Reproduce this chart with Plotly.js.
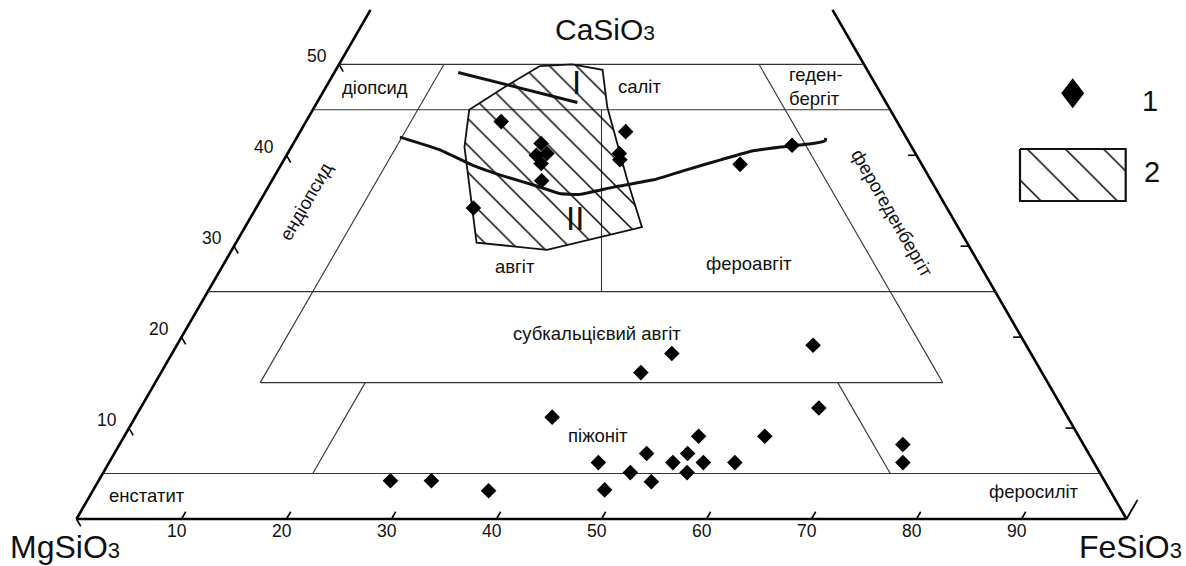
<!DOCTYPE html>
<html><head><meta charset="utf-8">
<script src="https://cdn.plot.ly/plotly-3.0.1.min.js"></script>
<style>html,body{margin:0;padding:0;background:#fff}</style>
</head><body><div id="chart" style="width:1186px;height:566px"></div>
<script>
// ---------- DATA (ternary composition, mol %: Wo = CaSiO3, Fs = FeSiO3) ----------
// 1 — analysed pyroxenes
const pointWo = [43.7, 41.3, 40.2, 40.0, 39.1, 37.2, 34.2, 42.6, 40.2, 39.5, 39.0, 41.1,
                 18.2, 16.1, 19.1, 11.2, 12.2, 9.1, 9.1, 7.2, 7.2, 6.2, 6.2, 6.2, 6.2,
                 5.1, 5.1, 4.1, 3.2, 4.2, 4.2, 3.1, 8.2, 6.2];
const pointFs = [18.6, 23.6, 24.7, 23.8, 24.7, 25.7, 20.7, 31.0, 31.6, 32.0, 43.7, 47.6,
                 47.6, 45.7, 60.6, 39.7, 64.6, 54.7, 61.0, 50.7, 54.6, 46.6, 53.7, 56.6, 59.6,
                 50.2, 55.6, 52.7, 48.7, 27.8, 31.7, 37.7, 74.6, 75.6];
// 2 — field (hatched)
const fieldWo = [49.8, 50.0, 49.4, 45.3, 37.3, 32.1, 29.6, 30.4, 40.9, 45.0, 47.7, 49.8];
const fieldFs = [19.2, 22.2, 25.4, 27.9, 33.8, 37.8, 30.0, 22.9, 16.5, 14.9, 17.2, 19.2];
// trend I
const trendIWo = [49.1, 45.8];
const trendIFs = [11.8, 24.8];
// trend II
const trendIIWo = [42.0, 40.6, 38.9, 37.6, 36.6, 35.8, 35.7, 36.5, 37.3, 38.4, 39.5, 40.5, 40.9, 41.3, 41.6, 41.9];
const trendIIFs = [9.8, 14.3, 18.3, 22.2, 25.6, 28.1, 30.1, 32.9, 36.3, 38.9, 41.6, 44.2, 46.6, 49.5, 50.5, 50.4];
// classification boundaries
const woFullLines = [5, 25, 45, 50];     // Wo levels crossing the whole diagram
const woPartial = 15;                    // Wo level between Fs=10 and En=10
const sideCut = 10;                      // Fs=10 and En=10 lines (Wo 15..50)
const pigeoniteCut = 20;                 // Fs=20 and En=20 lines (Wo 5..15)
const augiteSplit = [25, 45];            // En=Fs line range of Wo
const topWo = 56;                        // diagram is cut here
// tick labels
const bottomTicks = [10, 20, 30, 40, 50, 60, 70, 80, 90];
const leftTicks = [10, 20, 30, 40, 50];
const rightTicks = [10, 20, 30, 40];
const regionNames = ['діопсид', 'саліт', 'геден-<br>бергіт', 'ендіопсид', 'ферогеденбергіт',
  'авгіт', 'фероавгіт', 'субкальцієвий авгіт', 'піжоніт', 'енстатит', 'феросиліт'];
const endMembers = ['CaSiO', 'MgSiO', 'FeSiO'];
const trendNames = ['I', 'II'];
const legendNames = ['1', '2'];

// ---------- LAYOUT HELPERS ----------
const H = Math.sqrt(3) / 2;
const tx = (wo, fs) => fs + wo / 2;
const ty = wo => wo * H;
const S = 10.5, X0 = 76.5, Y0 = 519;          // pixel scale / origin
const W = 1186, HH = 566;
const px2x = p => (p - X0) / S;
const px2y = p => (Y0 - p) / S;
const FONT = 'Liberation Sans, Arial, sans-serif';

const shapes = [];
function seg(wo1, fs1, wo2, fs2, w, c) {
  shapes.push({type: 'line', layer: 'below', x0: tx(wo1, fs1), y0: ty(wo1), x1: tx(wo2, fs2), y1: ty(wo2),
    line: {color: c, width: w}});
}
const thin = '#333', tw = 1.1;
// triangle sides
seg(0, 0, 0, 100, 2.6, '#000');
seg(0, 0, topWo, 0, 2.6, '#000');
seg(0, 100, topWo, 100 - topWo, 2.6, '#000');
// full-width Wo lines
woFullLines.forEach(w => seg(w, 0, w, 100 - w, tw, thin));
// partial Wo = 15
seg(woPartial, sideCut, woPartial, 100 - woPartial - sideCut, tw, thin);
// Fs = 10 and En = 10
seg(woPartial, sideCut, 50, sideCut, tw, thin);
seg(woPartial, 100 - woPartial - sideCut, 50, 100 - 50 - sideCut, tw, thin);
// Fs = 20 and En = 20 (pigeonite field)
seg(5, pigeoniteCut, woPartial, pigeoniteCut, tw, thin);
seg(5, 100 - 5 - pigeoniteCut, woPartial, 100 - woPartial - pigeoniteCut, tw, thin);
// En = Fs (augite / ferroaugite)
seg(augiteSplit[0], (100 - augiteSplit[0]) / 2, augiteSplit[1], (100 - augiteSplit[1]) / 2, tw, thin);
// ticks
bottomTicks.forEach(f => seg(0, f, 0.8, f, 1.6, '#000'));
seg(0, 100, 2.1, 100, 1.8, '#000');
[0].concat(leftTicks).forEach(w => seg(w, 0, w - 0.8, 0.8, 1.6, '#000'));
rightTicks.forEach(w => seg(w, 100 - w, w, 100 - w - 0.8, 1.6, '#000'));

const ann = [];
function txt(x, y, t, size, opt) {
  ann.push(Object.assign({x: x, y: y, text: t, showarrow: false, xref: 'x', yref: 'y',
    font: {family: FONT, size: size, color: '#111'}, xanchor: 'center', yanchor: 'middle'}, opt || {}));
}
bottomTicks.forEach(f => txt(tx(0, f) - 0.4, -1.15, String(f), 17.5));
leftTicks.forEach(w => txt(tx(w, 0) - 2.1, ty(w) + 0.75, String(w), 17.5));

// region label positions (Wo, Fs) and rotation
const regionPos = [[47.5, 4.7, 0], [47.6, 29.8, 0], [47.6, 46.6, 0], [34.9, 4.4, -60], [33.6, 60.9, 60],
  [27.8, 27.9, 0], [28.1, 50.0, 0], [20.4, 39.4, 0], [9.2, 45.1, 0], [2.6, 5.4, 0], [3.0, 89.7, 0]];
regionNames.forEach((n, i) => {
  const p = regionPos[i];
  txt(tx(p[0], p[1]), ty(p[0]), n, 18.5, {textangle: p[2], align: 'left'});
});
// trend numerals
const trendPos = [[48.0, 23.6], [33.1, 30.9]];
trendNames.forEach((n, i) => txt(tx(trendPos[i][0], trendPos[i][1]), ty(trendPos[i][0]), n, 33));
// end-member names
const sub3 = s => '<span style="font-size:' + s + 'px">3</span>';
txt(px2x(605), px2y(29), endMembers[0] + sub3(21), 30);
txt(px2x(8), px2y(547), endMembers[1] + sub3(22), 32, {xanchor: 'left'});
txt(px2x(1184), px2y(547), endMembers[2] + sub3(22), 32, {xanchor: 'right'});
// legend
const legDia = {cx: 1072.7, cy: 93.3, hw: 11.5, hh: 15};
const legBox = {x0: 1020, y0: 149, x1: 1125.7, y1: 201};
txt(px2x(1150), px2y(101), legendNames[0], 29);
txt(px2x(1152), px2y(172), legendNames[1], 29);
shapes.push({type: 'path', layer: 'above', xref: 'x', yref: 'y',
  path: `M${px2x(legDia.cx)},${px2y(legDia.cy - legDia.hh)}L${px2x(legDia.cx + legDia.hw)},${px2y(legDia.cy)}L${px2x(legDia.cx)},${px2y(legDia.cy + legDia.hh)}L${px2x(legDia.cx - legDia.hw)},${px2y(legDia.cy)}Z`,
  fillcolor: '#000', line: {width: 0}});

const traces = [
  {type: 'scatter', mode: 'lines', x: fieldWo.map((w, i) => tx(w, fieldFs[i])), y: fieldWo.map(ty),
   fill: 'toself', fillcolor: 'rgba(255,255,255,0)',
   fillpattern: {shape: '\\', size: 19, solidity: 0.075, fgcolor: '#000', bgcolor: 'rgba(0,0,0,0)'},
   line: {color: '#111', width: 1.8}, hoverinfo: 'skip'},
  {type: 'scatter', mode: 'lines',
   x: [legBox.x0, legBox.x1, legBox.x1, legBox.x0, legBox.x0].map(px2x),
   y: [legBox.y0, legBox.y0, legBox.y1, legBox.y1, legBox.y0].map(px2y),
   fill: 'toself', fillcolor: 'rgba(255,255,255,0)',
   fillpattern: {shape: '\\', size: 27, solidity: 0.055, fgcolor: '#000', bgcolor: 'rgba(0,0,0,0)'},
   line: {color: '#111', width: 2.2}, hoverinfo: 'skip'},
  {type: 'scatter', mode: 'lines', x: trendIWo.map((w, i) => tx(w, trendIFs[i])), y: trendIWo.map(ty),
   line: {color: '#111', width: 3}},
  {type: 'scatter', mode: 'lines', x: trendIIWo.map((w, i) => tx(w, trendIIFs[i])), y: trendIIWo.map(ty),
   line: {color: '#111', width: 3, shape: 'spline', smoothing: 0.4}},
  {type: 'scatter', mode: 'markers', x: pointWo.map((w, i) => tx(w, pointFs[i])), y: pointWo.map(ty),
   marker: {symbol: 'diamond', size: 12, color: '#000'}}
];

const layout = {
  width: W, height: HH, margin: {l: 0, r: 0, t: 0, b: 0},
  paper_bgcolor: '#fff', plot_bgcolor: '#fff', showlegend: false, hovermode: false,
  xaxis: {range: [px2x(0), px2x(W)], visible: false, fixedrange: true},
  yaxis: {range: [px2y(HH), px2y(0)], visible: false, fixedrange: true},
  shapes: shapes, annotations: ann
};
Plotly.newPlot('chart', traces, layout, {staticPlot: true, displayModeBar: false});
</script></body></html>
